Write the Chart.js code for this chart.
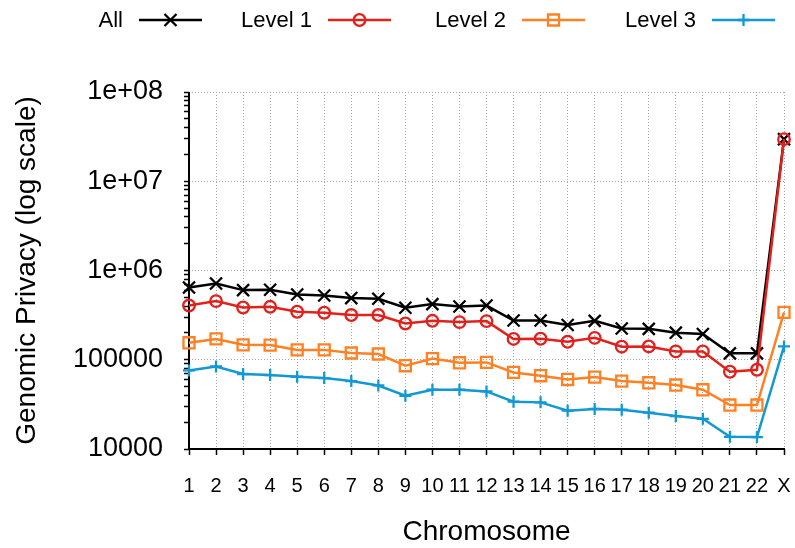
<!DOCTYPE html>
<html>
<head>
<meta charset="utf-8">
<script src="https://cdn.jsdelivr.net/npm/chart.js@4/dist/chart.umd.min.js"></script>
<style>
  html, body { margin: 0; padding: 0; background: #ffffff; }
  #wrap { width: 795px; height: 548px; }
</style>
</head>
<body>
<div id="wrap"><canvas id="c" width="795" height="548"></canvas></div>
<script>
// Genomic privacy per chromosome, log scale
const chromosomes = ['1','2','3','4','5','6','7','8','9','10','11','12','13','14','15','16','17','18','19','20','21','22','X'];

const privacyAll    = [645000, 716000, 603000, 608000, 538000, 525000, 491000, 482000, 382000, 420000, 395000, 405000,
                       275000, 275000, 245000, 273000, 224000, 222000, 201000, 194000, 118000, 118000, 29600000];
const privacyLevel1 = [405000, 454000, 385000, 392000, 345000, 336000, 317000, 317000, 255000, 273000, 264000, 271000,
                       171000, 172000, 159000, 176000, 140000, 141000, 124000, 124000, 73400, 77300, 29600000];
const privacyLevel2 = [155000, 171000, 147000, 146000, 129000, 129000, 119000, 116000, 85700, 103000, 92500, 93300,
                       72100, 66200, 60100, 64000, 57700, 55200, 52100, 46100, 31100, 31100, 339000];
const privacyLevel3 = [75900, 84100, 69200, 67400, 64500, 62400, 57700, 51500, 39500, 46100, 46100, 44200,
                       33900, 33300, 26900, 28100, 27600, 25500, 23400, 21800, 13700, 13600, 141000];

const seriesNames = ['All', 'Level 1', 'Level 2', 'Level 3'];
const decadeTicks  = [1e4, 1e5, 1e6, 1e7, 1e8];
const decadeLabels = ['10000', '100000', '1e+06', '1e+07', '1e+08'];

const FONT = "'Liberation Sans', Arial, Helvetica, sans-serif";
const COLORS = ['#000000', '#e2201c', '#ff8124', '#1298d4'];
const STYLES = ['crossRot', 'circle', 'rect', 'cross'];
const RADII  = [8.5, 5.8, 7.8, 6];

function decadeIndex(v) {
  for (let i = 0; i < decadeTicks.length; i++) {
    if (Math.abs(v - decadeTicks[i]) < decadeTicks[i] * 1e-6) return i;
  }
  return -1;
}

function makeDataset(i, values, order) {
  return {
    label: seriesNames[i],
    data: values,
    borderColor: COLORS[i],
    backgroundColor: COLORS[i],
    borderWidth: 2.5,
    pointStyle: STYLES[i],
    pointRadius: RADII[i],
    pointHoverRadius: RADII[i],
    pointBorderColor: COLORS[i],
    pointBackgroundColor: 'rgba(0,0,0,0)',
    pointBorderWidth: 2.3,
    tension: 0,
    fill: false,
    order: order
  };
}

// Solid left and bottom axis lines (grid lines themselves are dotted)
const solidAxes = {
  id: 'solidAxes',
  beforeDatasetsDraw(chart) {
    const { ctx, chartArea: a } = chart;
    ctx.save();
    ctx.strokeStyle = '#000000';
    ctx.lineWidth = 2;
    ctx.setLineDash([]);
    ctx.beginPath();
    ctx.moveTo(a.left, a.top);
    ctx.lineTo(a.left, a.bottom);
    ctx.lineTo(a.right + 1, a.bottom);
    ctx.stroke();
    ctx.restore();
  }
};

// Legend drawn gnuplot-style: label on the left, line sample with marker on the right
const sampleLegend = {
  id: 'sampleLegend',
  afterDraw(chart) {
    const ctx = chart.ctx;
    const textRight = [123, 312, 506, 696];
    const y = 20;
    ctx.save();
    ctx.font = '22px ' + FONT;
    ctx.textAlign = 'right';
    ctx.textBaseline = 'middle';
    for (let i = 0; i < seriesNames.length; i++) {
      ctx.fillStyle = '#000000';
      ctx.fillText(seriesNames[i], textRight[i], y + 1);
      const x0 = textRight[i] + 16, x1 = x0 + 63;
      ctx.strokeStyle = COLORS[i];
      ctx.lineWidth = 2.5;
      ctx.beginPath();
      ctx.moveTo(x0, y);
      ctx.lineTo(x1, y);
      ctx.stroke();
      ctx.fillStyle = 'rgba(0,0,0,0)';
      ctx.lineWidth = 2.3;
      Chart.helpers.drawPoint(ctx, {
        pointStyle: STYLES[i], radius: RADII[i], rotation: 0, borderWidth: 2.3
      }, (x0 + x1) / 2, y);
    }
    ctx.restore();
  }
};

new Chart(document.getElementById('c'), {
  type: 'line',
  data: {
    labels: chromosomes,
    datasets: [
      makeDataset(0, privacyAll, 4),
      makeDataset(1, privacyLevel1, 3),
      makeDataset(2, privacyLevel2, 2),
      makeDataset(3, privacyLevel3, 1)
    ]
  },
  options: {
    responsive: false,
    animation: false,
    events: [],
    layout: { padding: { top: 92, right: 11, left: 0, bottom: 0 } },
    plugins: { legend: { display: false }, tooltip: { enabled: false } },
    scales: {
      x: {
        type: 'category',
        offset: false,
        afterFit(scale) {
          scale.height = 99;
          scale.paddingLeft = 0;
          scale.paddingRight = 0;
        },
        grid: {
          display: true,
          drawOnChartArea: true,
          color: '#a6a6a6',
          lineWidth: 1,
          tickColor: '#000000',
          tickLength: 6,
          tickWidth: 1.5
        },
        border: { display: false, dash: [1, 2] },
        ticks: {
          color: '#000000',
          font: { family: FONT, size: 20 },
          padding: 19,
          autoSkip: false,
          maxRotation: 0
        },
        title: {
          display: true,
          text: 'Chromosome',
          color: '#000000',
          font: { family: FONT, size: 28 },
          padding: { top: 0, bottom: -1 }
        }
      },
      y: {
        type: 'logarithmic',
        min: 1e4,
        max: 1e8,
        afterFit(scale) { scale.width = 189; },
        afterBuildTicks(scale) {
          const t = [];
          for (let e = 4; e < 8; e++) {
            for (let m = 1; m < 10; m++) t.push({ value: m * Math.pow(10, e) });
          }
          t.push({ value: 1e8 });
          scale.ticks = t;
        },
        grid: {
          display: true,
          drawOnChartArea: true,
          color: (c) => (c.tick && decadeIndex(c.tick.value) >= 0) ? '#a6a6a6' : 'rgba(0,0,0,0)',
          lineWidth: 1,
          tickColor: '#000000',
          tickLength: 5,
          tickWidth: 1.5
        },
        border: { display: false, dash: [1, 2] },
        ticks: {
          color: '#000000',
          font: { family: FONT, size: 27 },
          padding: 21,
          autoSkip: false,
          callback(value) {
            const i = decadeIndex(value);
            return i >= 0 ? decadeLabels[i] : '';
          }
        },
        title: {
          display: true,
          text: 'Genomic Privacy (log scale)',
          color: '#000000',
          font: { family: FONT, size: 28 },
          padding: { top: 10, bottom: 0 }
        }
      }
    }
  },
  plugins: [solidAxes, sampleLegend]
});
</script>
</body>
</html>
